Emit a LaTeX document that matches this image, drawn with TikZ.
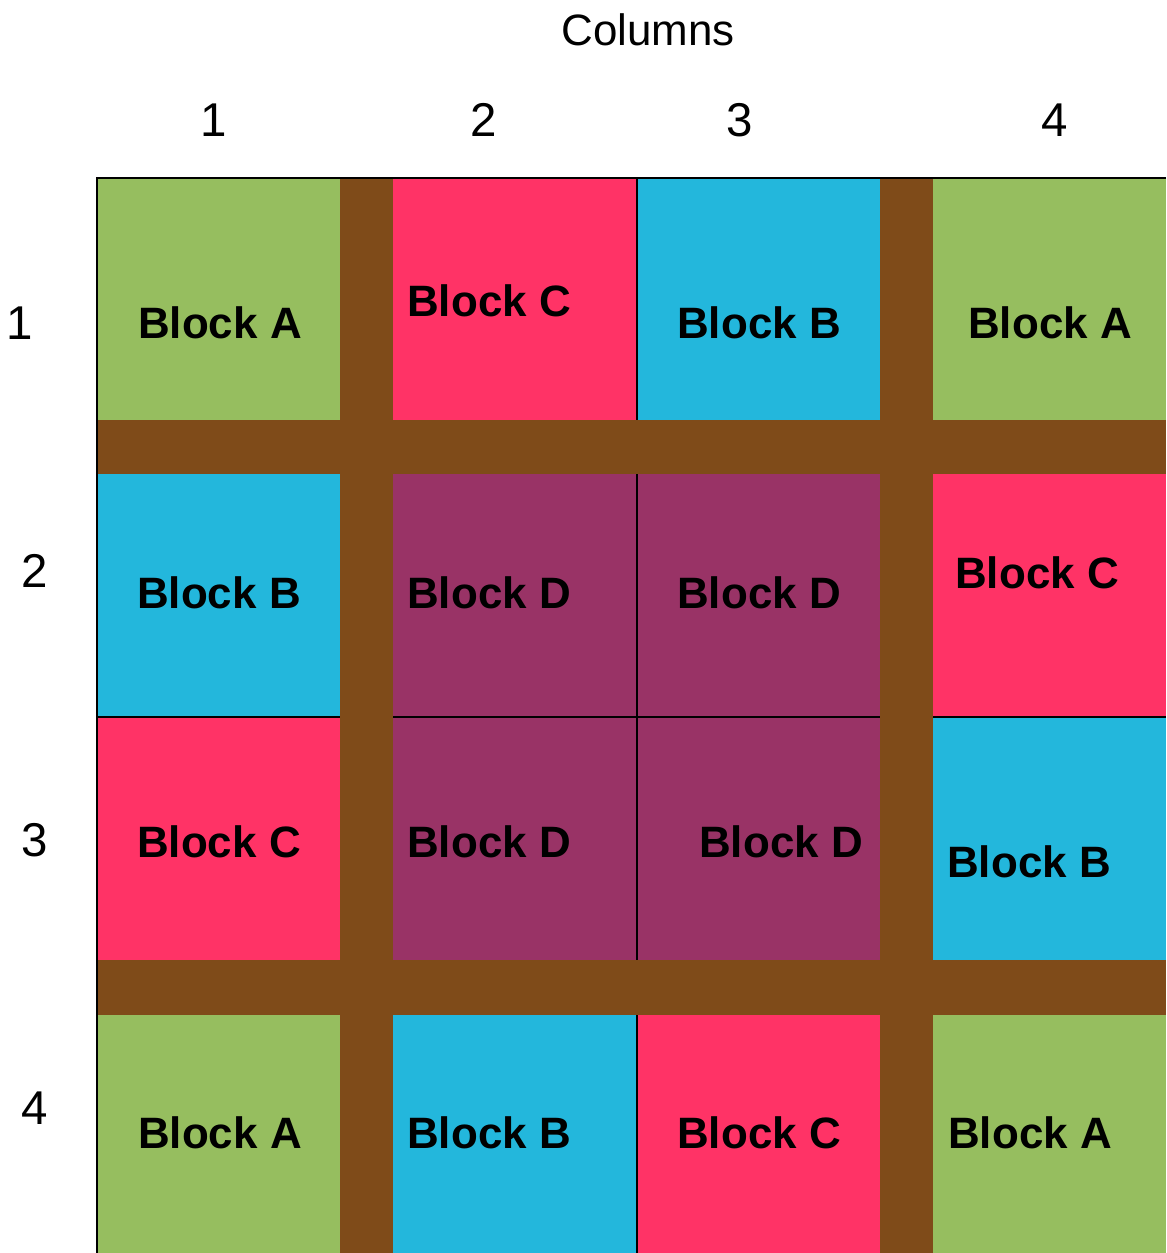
\documentclass[tikz,border=0pt]{standalone}
\usepackage{fontspec}
\setmainfont{Liberation Sans}
\usepackage{tikz}
\usetikzlibrary{positioning}
\definecolor{blockgreen}{RGB}{150,190,95}
\definecolor{blockpink}{RGB}{255,51,102}
\definecolor{blockblue}{RGB}{35,183,220}
\definecolor{blockpurple}{RGB}{153,51,102}
\definecolor{pathbrown}{RGB}{127,75,25}
\tikzset{
  cell/.style={
    draw=none, anchor=north west, inner sep=0pt, outer sep=0pt
  },
  blocklbl/.style={
    font=\fontsize{25}{30}\selectfont\bfseries, text=black, inner sep=0pt
  },
  axislbl/.style={
    font=\fontsize{27}{32}\selectfont, text=black, inner sep=0pt
  },
  gridline/.style={line width=0.7pt, black}
}

\begin{document}
\begin{tikzpicture}[x=0.02cm, y=-0.02cm]
  \useasboundingbox (0,0) rectangle (1166,1253);

  % paths between the blocks
  \fill[pathbrown] (97,178) rectangle (1166,1253);

  % row 1
  \node[cell, fill=blockgreen,  minimum width=4.86cm, minimum height=4.84cm] (a11) at (97,178) {};
  \node[cell, fill=blockpink,   minimum width=4.88cm, minimum height=4.84cm] (a12) at (393,178) {};
  \node[cell, fill=blockblue,   minimum width=4.86cm, minimum height=4.84cm] (a13) at (637,178) {};
  \node[cell, fill=blockgreen,  minimum width=4.66cm, minimum height=4.84cm] (a14) at (933,178) {};
  % row 2
  \node[cell, fill=blockblue,   minimum width=4.86cm, minimum height=4.86cm] (a21) at (97,474) {};
  \node[cell, fill=blockpurple, minimum width=4.88cm, minimum height=4.86cm] (a22) at (393,474) {};
  \node[cell, fill=blockpurple, minimum width=4.86cm, minimum height=4.86cm] (a23) at (637,474) {};
  \node[cell, fill=blockpink,   minimum width=4.66cm, minimum height=4.86cm] (a24) at (933,474) {};
  % row 3
  \node[cell, fill=blockpink,   minimum width=4.86cm, minimum height=4.86cm] (a31) at (97,717) {};
  \node[cell, fill=blockpurple, minimum width=4.88cm, minimum height=4.86cm] (a32) at (393,717) {};
  \node[cell, fill=blockpurple, minimum width=4.86cm, minimum height=4.86cm] (a33) at (637,717) {};
  \node[cell, fill=blockblue,   minimum width=4.66cm, minimum height=4.86cm] (a34) at (933,717) {};
  % row 4
  \node[cell, fill=blockgreen,  minimum width=4.86cm, minimum height=4.76cm] (a41) at (97,1015) {};
  \node[cell, fill=blockblue,   minimum width=4.88cm, minimum height=4.76cm] (a42) at (393,1015) {};
  \node[cell, fill=blockpink,   minimum width=4.86cm, minimum height=4.76cm] (a43) at (637,1015) {};
  \node[cell, fill=blockgreen,  minimum width=4.66cm, minimum height=4.76cm] (a44) at (933,1015) {};

  % thin edges
  \draw[gridline] (a41.south west) -- (a11.north west) -- (a14.north east);
  \draw[gridline] (a12.north east) -- (a12.south east);
  \draw[gridline] (a22.north east) -- (a32.south east);
  \draw[gridline] (a42.north east) -- (a42.south east);
  \draw[gridline] (a21.south west) -- (a21.south east);
  \draw[gridline] (a22.south west) -- (a23.south east);
  \draw[gridline] (a24.south west) -- (a24.south east);

  % block names
  \node[blocklbl] (t11) at (220,323)  {Block A};
  \node[blocklbl] (t12) at (489,301)  {Block C};
  \node[blocklbl] (t13) at (759,323)  {Block B};
  \node[blocklbl] (t14) at (1050,323) {Block A};
  \node[blocklbl] (t21) at (219,593)  {Block B};
  \node[blocklbl] (t22) at (489,593)  {Block D};
  \node[blocklbl] (t23) at (759,593)  {Block D};
  \node[blocklbl] (t24) at (1037,573) {Block C};
  \node[blocklbl] (t31) at (219,842)  {Block C};
  \node[blocklbl] (t32) at (489,842)  {Block D};
  \node[blocklbl] (t33) at (781,842)  {Block D};
  \node[blocklbl] (t34) at (1029,862) {Block B};
  \node[blocklbl] (t41) at (220,1133) {Block A};
  \node[blocklbl] (t42) at (489,1133) {Block B};
  \node[blocklbl] (t43) at (759,1133) {Block C};
  \node[blocklbl] (t44) at (1030,1133) {Block A};

  % headings
  \node[axislbl, font=\fontsize{25}{30}\selectfont] (cols) at (648,30) {Columns};
  \node[axislbl] (c1) at (214,120)  {1};
  \node[axislbl] (c2) at (484,120)  {2};
  \node[axislbl] (c3) at (740,120)  {3};
  \node[axislbl] (c4) at (1055,120) {4};
  \node[axislbl] (r1) at (20,323)   {1};
  \node[axislbl] (r2) at (35,571)   {2};
  \node[axislbl] (r3) at (35,840)   {3};
  \node[axislbl] (r4) at (35,1108)  {4};
\end{tikzpicture}
\end{document}
